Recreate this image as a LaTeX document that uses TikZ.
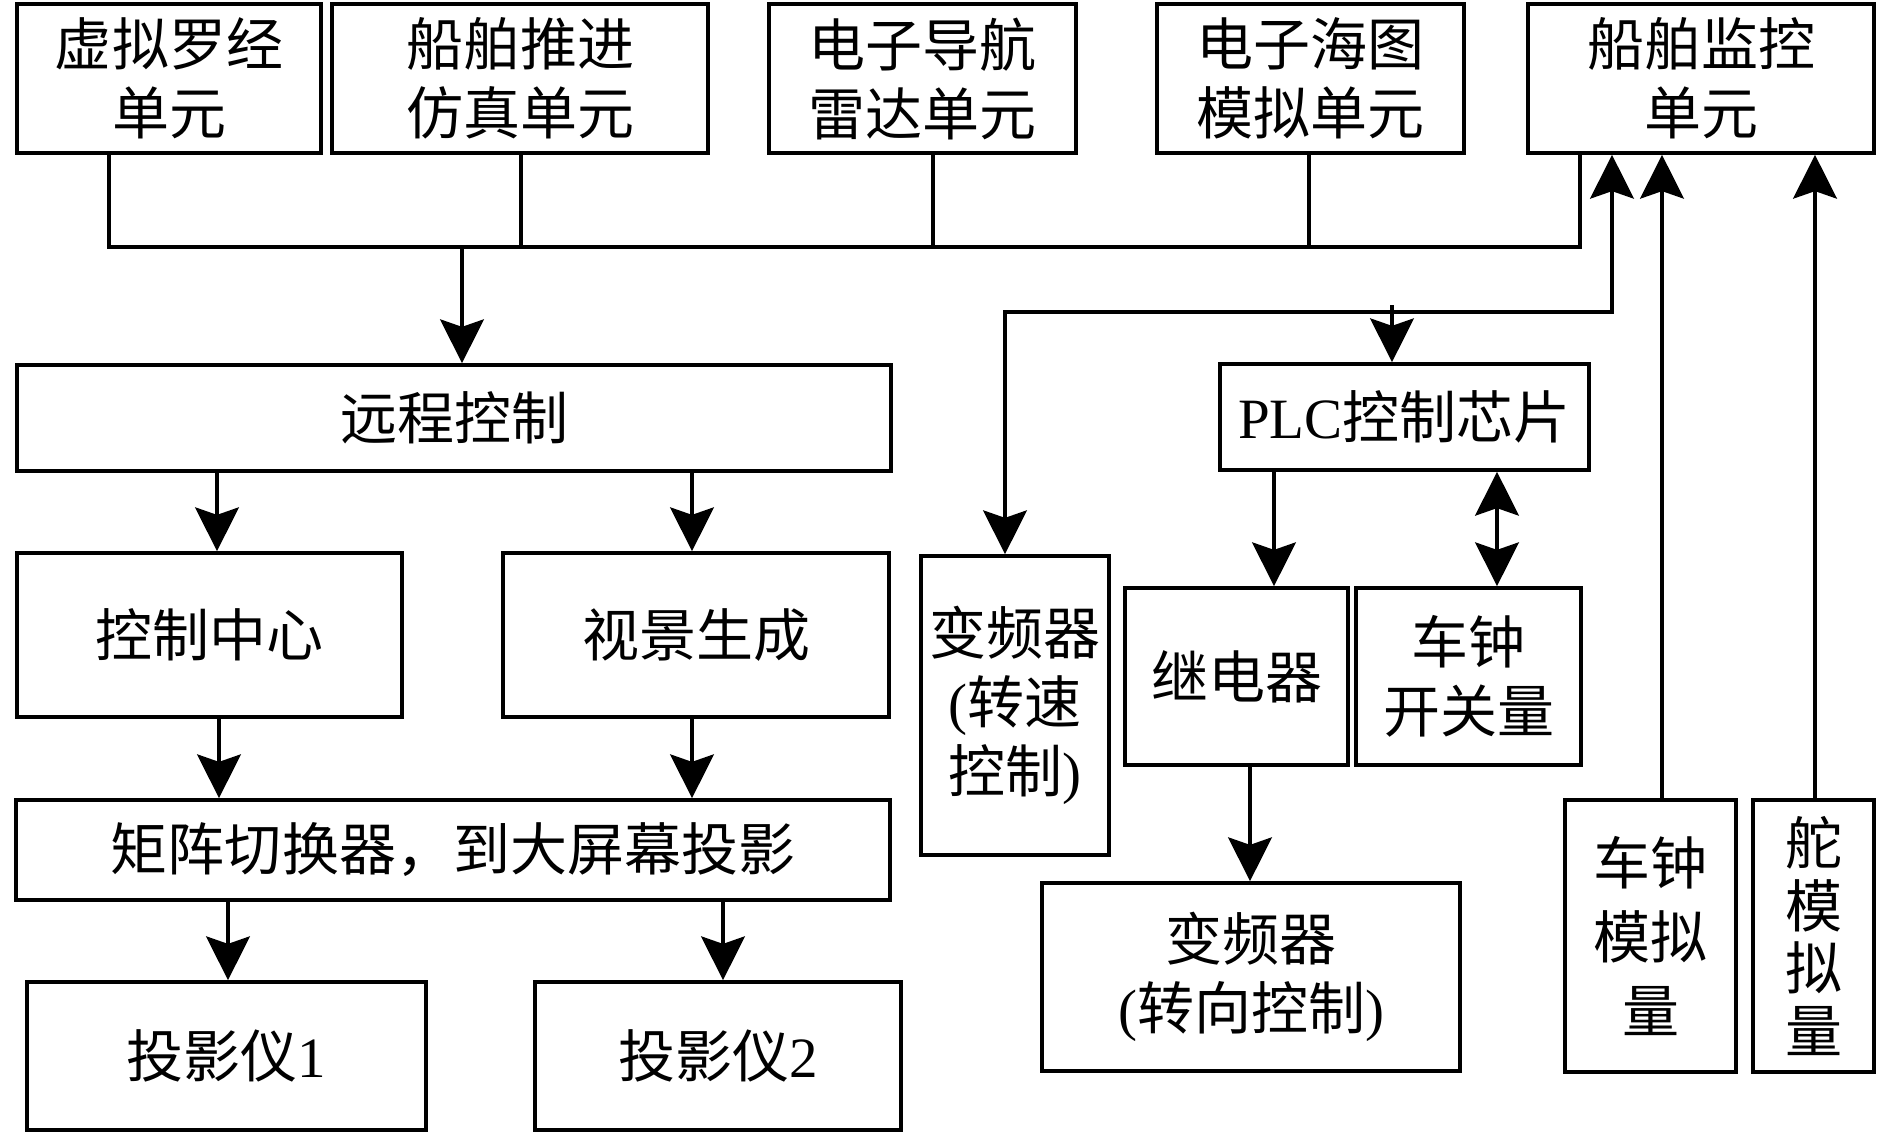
\documentclass[tikz,border=0pt]{standalone}
\usepackage{fontspec}
\setmainfont{Liberation Serif}
\newfontfamily\cjk{Noto Sans CJK SC}
\usetikzlibrary{arrows.meta}
\begin{document}
\begin{tikzpicture}[x=0.4pt,y=-0.4pt,
  box/.style 2 args={draw, line width=1.5pt, inner sep=0pt, align=center,
    minimum width=#1*0.4pt, minimum height=#2*0.4pt,
    font=\cjk\fontsize{22.8pt}{27.6pt}\selectfont},
  ln/.style={line width=1.4pt},
  tip/.tip={Stealth[length=17.5pt,width=17.5pt,inset=3pt]},
  arr/.style={ln,-tip},
  dbl/.style={ln,tip-tip}]
\useasboundingbox (0,0) rectangle (1890,1132);
% top row
\node[box={304}{149}] (a1) at (169,78.5) {虚拟罗经\\单元};
\node[box={376}{149}] (a2) at (520,78.5) {船舶推进\\仿真单元};
\node[box={307}{149}] (a3) at (922.5,78.5) {电子导航\\雷达单元};
\node[box={307}{149}] (a4) at (1310.5,78.5) {电子海图\\模拟单元};
\node[box={346}{149}] (a5) at (1701,78.5) {船舶监控\\单元};
% left column
\node[box={874}{106}] (b) at (454,418) {远程控制};
\node[box={385}{164}] (c1) at (209.5,635) {控制中心};
\node[box={386}{164}] (c2) at (696,635) {视景生成};
\node[box={874}{100}] (d) at (453,850) {矩阵切换器，到大屏幕投影};
\node[box={399}{148}] (e1) at (226.5,1056) {投影仪{\rmfamily 1}};
\node[box={366}{148}] (e2) at (718,1056) {投影仪{\rmfamily 2}};
% right part
\node[box={369}{106}] (p) at (1404.5,417) {{\rmfamily PLC}控制芯片};
\node[box={188}{299}] (f1) at (1015,705.5) {变频器\\{\rmfamily(}转速\\控制{\rmfamily)}};
\node[box={223}{177}] (g1) at (1236.5,676.5) {继电器};
\node[box={225}{177}] (g2) at (1468.5,676.5) {车钟\\开关量};
\node[box={418}{188}] (h) at (1251,977) {变频器\\{\rmfamily(}转向控制{\rmfamily)}};
\node[box={171}{272}] (k1) at (1650.5,936) {车钟\\[2pt]模拟\\[2pt]量};
\node[box={121}{272}] (k2) at (1813.5,936) {舵\\[-2.6pt]模\\[-2.6pt]拟\\[-2.6pt]量};
% bus
\coordinate (j1) at (109,247);
\coordinate (j2) at (521,247);
\coordinate (j3) at (933,247);
\coordinate (j4) at (1309,247);
\coordinate (j5) at (1580,247);
\coordinate (j0) at (462,247);
\draw[ln] (a1.south -| j1) -- (j1) -- (j5) -- (a5.south -| j5);
\draw[ln] (a2.south -| j2) -- (j2);
\draw[ln] (a3.south -| j3) -- (j3);
\draw[ln] (a4.south -| j4) -- (j4);
\draw[arr] (j0) -- (b.north -| j0);
% left arrows
\coordinate (l1) at (217,0);
\coordinate (l2) at (692,0);
\coordinate (l3) at (219,0);
\coordinate (l4) at (228,0);
\coordinate (l5) at (723,0);
\draw[arr] (b.south -| l1) -- (c1.north -| l1);
\draw[arr] (b.south -| l2) -- (c2.north -| l2);
\draw[arr] (c1.south -| l3) -- (d.north -| l3);
\draw[arr] (c2.south -| l2) -- (d.north -| l2);
\draw[arr] (d.south -| l4) -- (e1.north -| l4);
\draw[arr] (d.south -| l5) -- (e2.north -| l5);
% right connectors
\coordinate (r1) at (1005,312);
\coordinate (r2) at (1612,312);
\coordinate (r3) at (1392,305);
\draw[dbl] (f1.north -| r1) -- (r1) -- (r2) -- (a5.south -| r2);
\draw[arr] (r3) -- (p.north -| r3);
\coordinate (q1) at (1274,0);
\coordinate (q2) at (1497,0);
\coordinate (q3) at (1250,0);
\coordinate (q4) at (1662,0);
\coordinate (q5) at (1815,0);
\draw[arr] (p.south -| q1) -- (g1.north -| q1);
\draw[dbl] (p.south -| q2) -- (g2.north -| q2);
\draw[arr] (g1.south -| q3) -- (h.north -| q3);
\draw[arr] (k1.north -| q4) -- (a5.south -| q4);
\draw[arr] (k2.north -| q5) -- (a5.south -| q5);
\end{tikzpicture}
\end{document}
